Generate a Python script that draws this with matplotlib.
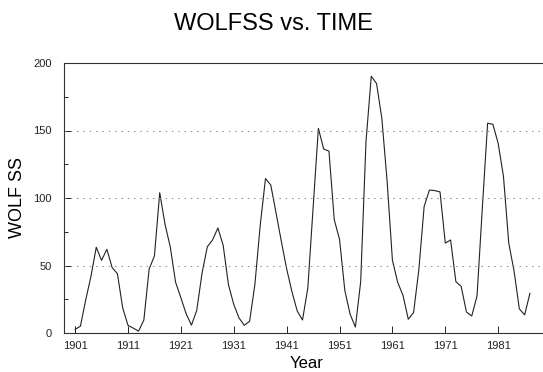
import matplotlib
matplotlib.use("Agg")
import matplotlib.pyplot as plt

years = list(range(1901, 1988))
wolf_ss = [2.7, 5.0, 24.4, 42.0, 63.5, 53.8, 62.0, 48.5, 43.9, 18.6,
           5.7, 3.6, 1.4, 9.6, 47.4, 57.1, 103.9, 80.6, 63.6, 37.6,
           26.1, 14.2, 5.8, 16.7, 44.3, 63.9, 69.0, 77.8, 64.9, 35.7,
           21.2, 11.1, 5.7, 8.7, 36.1, 79.7, 114.4, 109.6, 88.8, 67.8,
           47.5, 30.6, 16.3, 9.6, 33.2, 92.6, 151.6, 136.3, 134.7, 83.9,
           69.4, 31.5, 13.9, 4.4, 38.0, 141.7, 190.2, 184.8, 159.0, 112.3,
           53.9, 37.5, 27.9, 10.2, 15.1, 47.0, 93.8, 105.9, 105.5, 104.5,
           66.6, 68.9, 38.0, 34.5, 15.5, 12.6, 27.5, 92.5, 155.4, 154.6,
           140.4, 115.9, 66.6, 45.9, 17.9, 13.4, 29.4]
x_ticks = [1901, 1911, 1921, 1931, 1941, 1951, 1961, 1971, 1981]
y_ticks = [0, 50, 100, 150, 200]
y_minor = [25, 75, 125, 175]

plt.rcParams['font.family'] = ['Liberation Sans', 'DejaVu Sans']

fig = plt.figure(figsize=(5.43, 3.72), dpi=100)
ax = fig.add_axes([64/543, 1-333/372, 1.0 - 64/543 + 0.01, (333-63)/372])

ax.plot(years, wolf_ss, color='#222222', lw=0.8)
ax.set_xlim(1898.9, 1990.5)
ax.set_ylim(0, 200)
ax.set_xticks(x_ticks)
ax.set_xticklabels([str(t) for t in x_ticks])
ax.set_yticks(y_ticks)
ax.set_yticks(y_minor, minor=True)
ax.tick_params(axis='both', which='major', direction='in', length=5, width=0.7,
               labelsize=8, colors='#222222')
ax.tick_params(axis='y', which='minor', direction='in', length=3, width=0.6)
ax.tick_params(axis='x', pad=5.5)
ax.tick_params(axis='y', pad=9)

for v in [50, 100, 150]:
    ax.axhline(v, color='#888888', lw=0.7, ls=(0, (1.5, 5)))

ax.spines['right'].set_visible(False)
for s in ['left', 'top', 'bottom']:
    ax.spines[s].set_linewidth(0.8)
    ax.spines[s].set_color('#333333')

ax.set_xlabel('Year', fontsize=12, labelpad=4)
ax.set_ylabel('WOLF SS', fontsize=13, labelpad=5)
fig.text(0.503, 0.935, 'WOLFSS vs. TIME', ha='center', va='center', fontsize=17)

fig.savefig('out.png', dpi=100)
